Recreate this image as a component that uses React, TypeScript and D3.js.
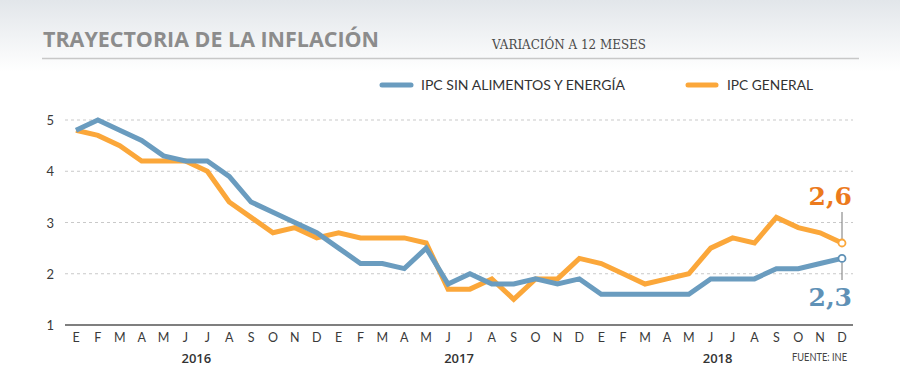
import * as d3 from "d3";

const months = ["E", "F", "M", "A", "M", "J", "J", "A", "S", "O", "N", "D"];
const years = ["2016", "2017", "2018"];
const yTicks = [1, 2, 3, 4, 5];

// IPC sin alimentos y energía, ene-2016 .. dic-2018
const ipcCore = [
	4.8, 5.0, 4.8, 4.6, 4.3, 4.2, 4.2, 3.9, 3.4, 3.2, 3.0, 2.8,
	2.5, 2.2, 2.2, 2.1, 2.5, 1.8, 2.0, 1.8, 1.8, 1.9, 1.8, 1.9,
	1.6, 1.6, 1.6, 1.6, 1.6, 1.9, 1.9, 1.9, 2.1, 2.1, 2.2, 2.3,
];

// IPC general
const ipcGeneral = [
	4.8, 4.7, 4.5, 4.2, 4.2, 4.2, 4.0, 3.4, 3.1, 2.8, 2.9, 2.7,
	2.8, 2.7, 2.7, 2.7, 2.6, 1.7, 1.7, 1.9, 1.5, 1.9, 1.9, 2.3,
	2.2, 2.0, 1.8, 1.9, 2.0, 2.5, 2.7, 2.6, 3.1, 2.9, 2.8, 2.6,
];

const BLUE = "#6a9cbf";
const ORANGE = "#fba73a";
const BLUE_LABEL = "#5f91b6";
const ORANGE_LABEL = "#ec7a1c";

const W = 900;
const H = 385;
const sans = "Lato, 'Open Sans', sans-serif";

export default function App() {
	const monthLabels = years.flatMap(() => months);
	const x = d3
		.scaleLinear()
		.domain([0, monthLabels.length - 1])
		.range([76, 842]);
	const y = d3.scaleLinear().domain([1, 5]).range([325, 120]);

	const line = d3
		.line<number>()
		.x((_, i) => x(i))
		.y((d) => y(d));

	const last = ipcCore.length - 1;
	const fmt = (v: number) => v.toFixed(1).replace(".", ",");

	return (
		<svg
			width={W}
			height={H}
			style={{ position: "absolute", left: 0, top: 0, display: "block" }}
		>
			<defs>
				<linearGradient id="hdr" x1="0" y1="0" x2="0" y2="1">
					<stop offset="0" stopColor="#e2e6ea" />
					<stop offset="1" stopColor="#ffffff" />
				</linearGradient>
			</defs>
			<rect width={W} height={H} fill="#fff" />
			<rect width={W} height={72} fill="url(#hdr)" />

			{/* header */}
			<text
				x={43}
				y={47}
				fontFamily="'Open Sans', sans-serif"
				fontWeight={700}
				fontSize={21}
				fill="#8c8c8c"
				textLength={336}
				lengthAdjust="spacingAndGlyphs"
			>
				TRAYECTORIA DE LA INFLACIÓN
			</text>
			<text
				x={492}
				y={49}
				fontFamily="'DejaVu Serif', serif"
				fontSize={12}
				fill="#4a4a4a"
				textLength={154}
				lengthAdjust="spacingAndGlyphs"
			>
				VARIACIÓN A 12 MESES
			</text>
			<line x1={42} x2={859} y1={58.5} y2={58.5} stroke="#c8c8c8" strokeWidth={1.5} />

			{/* legend */}
			<line x1={382} x2={411} y1={85} y2={85} stroke={BLUE} strokeWidth={5} strokeLinecap="round" />
			<text x={421} y={90} fontFamily={sans} fontSize={14} fill="#333" textLength={204} lengthAdjust="spacingAndGlyphs">
				IPC SIN ALIMENTOS Y ENERGÍA
			</text>
			<line x1={688} x2={716} y1={85} y2={85} stroke={ORANGE} strokeWidth={5} strokeLinecap="round" />
			<text x={727} y={90} fontFamily={sans} fontSize={14} fill="#333" textLength={86} lengthAdjust="spacingAndGlyphs">
				IPC GENERAL
			</text>

			{/* y grid + labels */}
			{yTicks.map((t) => (
				<g key={t}>
					{t > 1 && (
						<line
							x1={65}
							x2={853}
							y1={y(t)}
							y2={y(t)}
							stroke="#c9c9c9"
							strokeDasharray="3,3"
						/>
					)}
					<text
						x={54}
						y={y(t) + 5}
						textAnchor="end"
						fontFamily={sans}
						fontSize={13}
						fill="#3a3a3a"
					>
						{t}
					</text>
				</g>
			))}
			<line x1={65} x2={853} y1={y(1)} y2={y(1)} stroke="#555" strokeWidth={1.5} />

			{/* x labels */}
			{monthLabels.map((m, i) => (
				<text
					key={i}
					x={x(i)}
					y={342}
					textAnchor="middle"
					fontFamily={sans}
					fontSize={12.5}
					fill="#3a3a3a"
				>
					{m}
				</text>
			))}
			{years.map((yr, k) => (
				<text
					key={yr}
					x={x(k * 12 + 5.5) - (k === 2 ? 4 : 0)}
					y={363}
					textAnchor="middle"
					fontFamily="'Open Sans', sans-serif"
					fontWeight={600}
					fontSize={13}
					fill="#333"
				>
					{yr}
				</text>
			))}
			<text
				x={847}
				y={361}
				textAnchor="end"
				fontFamily={sans}
				fontSize={10.5}
				fill="#444"
				textLength={55}
				lengthAdjust="spacingAndGlyphs"
			>
				FUENTE: INE
			</text>

			{/* series */}
			<path d={line(ipcGeneral) ?? ""} fill="none" stroke={ORANGE} strokeWidth={5} strokeLinejoin="miter" />
			<path d={line(ipcCore) ?? ""} fill="none" stroke={BLUE} strokeWidth={5} strokeLinejoin="miter" />

			{/* end labels */}
			<line x1={x(last)} x2={x(last)} y1={212} y2={y(ipcGeneral[last]) - 4} stroke="#777" />
			<line x1={x(last)} x2={x(last)} y1={y(ipcCore[last]) + 4} y2={280} stroke="#777" />
			<circle cx={x(last)} cy={y(ipcGeneral[last])} r={3.5} fill="#fff" stroke={ORANGE} strokeWidth={1.8} />
			<circle cx={x(last)} cy={y(ipcCore[last])} r={3.5} fill="#fff" stroke={BLUE_LABEL} strokeWidth={1.8} />
			<text
				x={x(last) + 10}
				y={205}
				textAnchor="end"
				fontFamily="'DejaVu Serif', serif"
				fontWeight={700}
				fontSize={25}
				fill={ORANGE_LABEL}
			>
				{fmt(ipcGeneral[last])}
			</text>
			<text
				x={x(last) + 10}
				y={306}
				textAnchor="end"
				fontFamily="'DejaVu Serif', serif"
				fontWeight={700}
				fontSize={25}
				fill={BLUE_LABEL}
			>
				{fmt(ipcCore[last])}
			</text>
		</svg>
	);
}
